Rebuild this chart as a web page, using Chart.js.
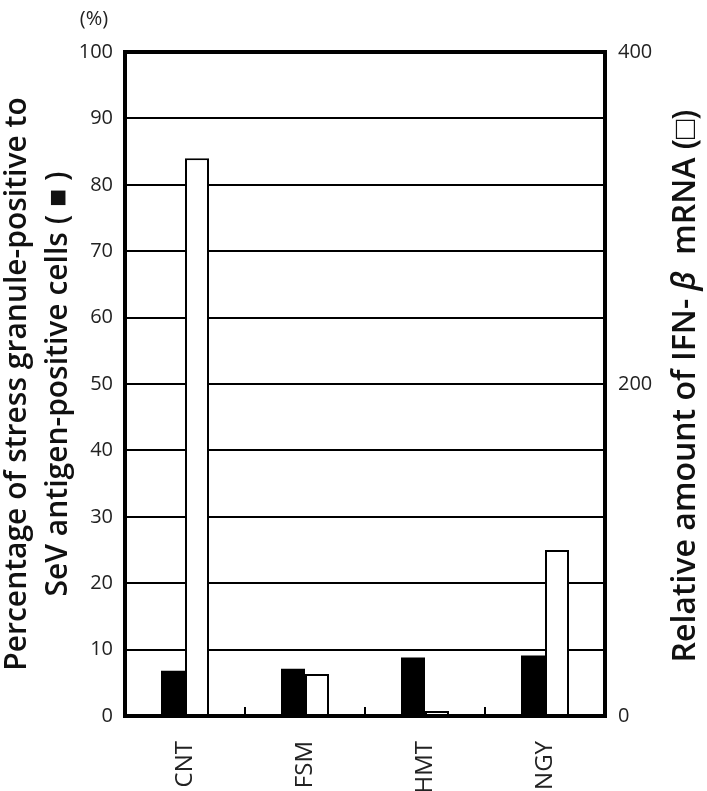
<!DOCTYPE html>
<html lang="en">
<head>
    <meta charset="UTF-8">
    <title>Stress granule vs IFN-beta</title>
    <script src="https://cdn.jsdelivr.net/npm/chart.js"></script>
    <style>
        body { margin: 0; background: #fff; }
        canvas { display: block; }
    </style>
</head>
<body>
    <canvas id="sgChart" width="707" height="791"></canvas>
    <script>
        // values
        const categories = ['CNT', 'FSM', 'HMT', 'NGY'];
        const stressGranulePct = [6.8, 7.1, 8.8, 9.1];   // black bars, left axis (%)
        const ifnBetaMrna = [336, 25.3, 3, 100];         // white bars, right axis
        const leftTicks = [0, 10, 20, 30, 40, 50, 60, 70, 80, 90, 100];
        const rightTicks = [0, 200, 400];

        const FONT = "'Open Sans', 'Noto Sans', sans-serif";
        const TITLE_SIZE = 30;

        const framePlugin = {
            id: 'frame',
            afterDatasetsDraw(chart) {
                const { ctx, chartArea: a, scales: { x } } = chart;
                ctx.save();
                ctx.strokeStyle = '#000';
                ctx.lineWidth = 4;
                ctx.strokeRect(a.left, a.top, a.right - a.left, a.bottom - a.top);
                // small inward ticks between categories
                ctx.lineWidth = 2;
                for (let i = 0; i < categories.length - 1; i++) {
                    const bx = (x.getPixelForTick(i) + x.getPixelForTick(i + 1)) / 2;
                    ctx.beginPath();
                    ctx.moveTo(bx, a.bottom);
                    ctx.lineTo(bx, a.bottom - 9);
                    ctx.stroke();
                }
                ctx.restore();
            },
            afterDraw(chart) {
                const { ctx, chartArea: a } = chart;
                ctx.save();
                ctx.fillStyle = '#222';
                ctx.font = '20px ' + FONT;
                ctx.textAlign = 'center';
                ctx.textBaseline = 'middle';
                ctx.fillText('(%)', 94, 19);

                // right axis title, bottom-to-top, italic beta
                const f = '600 32px ' + FONT;
                const parts = [
                    ['Relative amount of IFN- ', f],
                    ['\u03B2', 'italic ' + f],
                    ['  mRNA (\u25A1)', f]
                ];
                let total = 0;
                parts.forEach(p => { ctx.font = p[1]; total += ctx.measureText(p[0]).width; });
                ctx.translate(686, (a.top + a.bottom) / 2 + 2);
                ctx.rotate(-Math.PI / 2);
                ctx.textAlign = 'left';
                ctx.fillStyle = '#111';
                let px = -total / 2;
                parts.forEach(p => {
                    ctx.font = p[1];
                    ctx.fillText(p[0], px, 0);
                    px += ctx.measureText(p[0]).width;
                });
                ctx.restore();
            }
        };

        new Chart(document.getElementById('sgChart'), {
            type: 'bar',
            data: {
                labels: categories,
                datasets: [{
                    label: 'Stress granule-positive (%)',
                    data: stressGranulePct,
                    yAxisID: 'y',
                    backgroundColor: '#000',
                    borderColor: '#000',
                    borderWidth: 0
                }, {
                    label: 'IFN-beta mRNA',
                    data: ifnBetaMrna,
                    yAxisID: 'y1',
                    backgroundColor: '#fff',
                    borderColor: '#000',
                    borderWidth: 2
                }]
            },
            options: {
                responsive: false,
                devicePixelRatio: 1,
                animation: false,
                categoryPercentage: 0.4,
                barPercentage: 1.0,
                layout: { padding: { top: 52, left: 0, right: 0, bottom: 0 } },
                plugins: {
                    legend: { display: false },
                    tooltip: { enabled: false }
                },
                scales: {
                    x: {
                        grid: { display: false },
                        border: { display: false },
                        ticks: {
                            minRotation: 90,
                            maxRotation: 90,
                            padding: 17,
                            color: '#222',
                            font: { family: FONT, size: 24 }
                        },
                        afterFit(s) { s.height = 75; }
                    },
                    y: {
                        position: 'left',
                        min: 0,
                        max: 100,
                        afterBuildTicks(s) { s.ticks = leftTicks.map(v => ({ value: v })); },
                        grid: {
                            color: '#000',
                            lineWidth: c => (c.tick && (c.tick.value === 0 || c.tick.value === 100)) ? 0 : 2,
                            drawTicks: false
                        },
                        border: { display: false },
                        ticks: {
                            padding: 12,
                            color: '#222',
                            font: { family: FONT, size: 20 }
                        },
                        title: {
                            display: true,
                            text: ['Percentage of stress granule-positive to', 'SeV antigen-positive cells ( \u25A0 )'],
                            color: '#111',
                            font: { family: FONT, size: TITLE_SIZE, weight: '600', lineHeight: 1.37 },
                            padding: { top: -3, bottom: 0 }
                        },
                        afterFit(s) { s.width = 125; }
                    },
                    y1: {
                        position: 'right',
                        min: 0,
                        max: 400,
                        afterBuildTicks(s) { s.ticks = rightTicks.map(v => ({ value: v })); },
                        grid: { display: false, drawTicks: false },
                        border: { display: false },
                        ticks: {
                            padding: 13,
                            color: '#222',
                            font: { family: FONT, size: 20 }
                        },
                        afterFit(s) { s.width = 102; }
                    }
                }
            },
            plugins: [framePlugin]
        });
    </script>
</body>
</html>
